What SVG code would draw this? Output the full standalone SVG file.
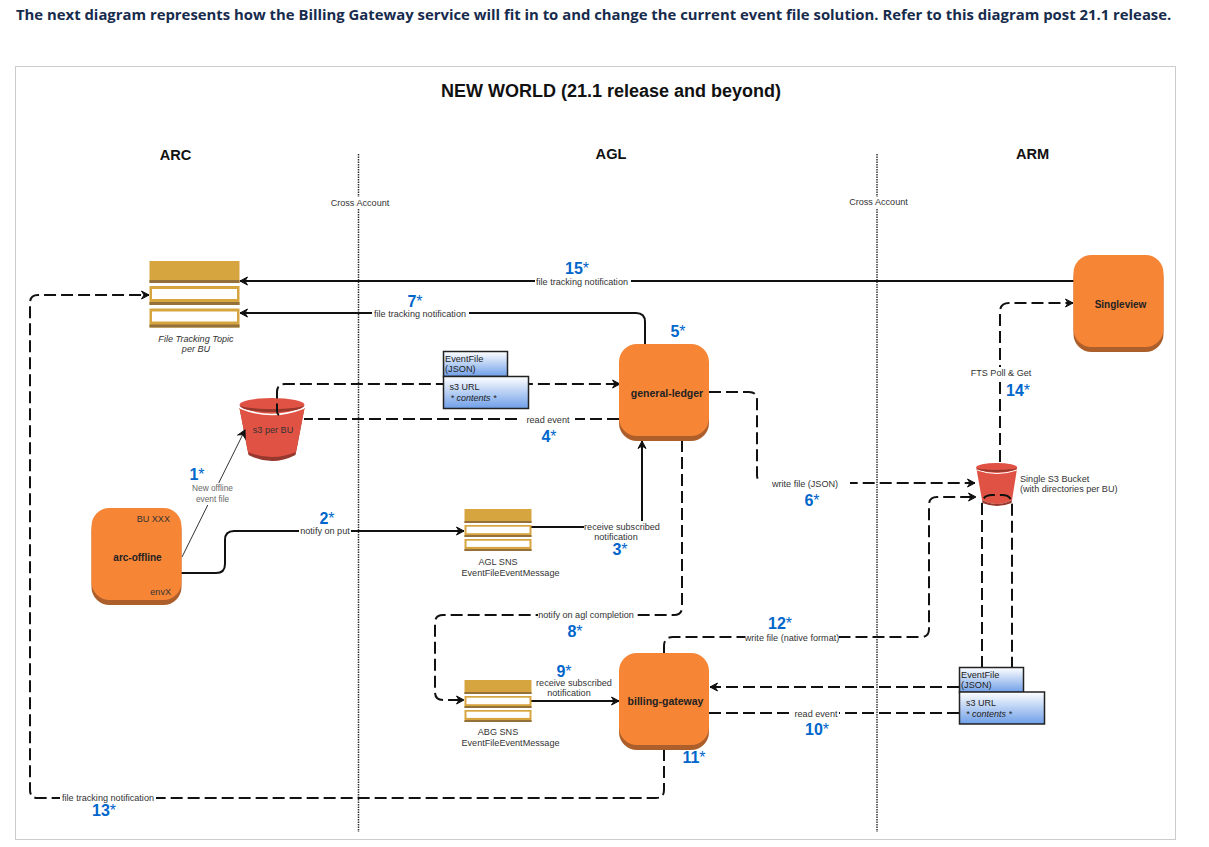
<svg xmlns="http://www.w3.org/2000/svg" xmlns:xlink="http://www.w3.org/1999/xlink" width="1209" height="847" viewBox="0 0 1209 847">
<style>
text{font-family:"Liberation Sans",Arial,sans-serif;fill:#222}
.c{text-anchor:middle}
.l{font-size:9.100px;fill:#333}
.n{font-size:16px;font-weight:bold;fill:#0066cc;text-anchor:middle}
.n tspan{font-weight:normal}
.h{font-size:14.600px;font-weight:bold;fill:#111;text-anchor:middle}
.b{font-size:10.500px;font-weight:bold;fill:#222;text-anchor:middle}
.con{fill:none;stroke:#111;stroke-width:2}
.d{stroke-dasharray:12 5}
.x{fill:none;stroke:#333;stroke-width:1.5;stroke-dasharray:1.5 1}
.w{fill:#fff}
.o{fill:#f68536}
.od{fill:#ad5f2b}
.r{fill:#e05243}
.rd{fill:#96382e}
.g{fill:#d7a53f}
.gd{fill:#94713a}
.f{fill:url(#blue);stroke:#222;stroke-width:1.5}
</style>
<defs>
<linearGradient id="blue" x1="0" y1="0" x2="0" y2="1"><stop offset="0" stop-color="#fff"/><stop offset="1" stop-color="#6f9fe8"/></linearGradient>
<marker id="a" markerWidth="10" markerHeight="10" refX="8.500" refY="5" orient="auto" markerUnits="userSpaceOnUse"><path d="M1 1 L8.500 5 L1 9 L3.500 5 Z" fill="#111" stroke="#111" stroke-width="1"/></marker>
<g id="topicS">
<rect x="0" y="0" width="67" height="14" class="g"/><rect x="0" y="12" width="67" height="2" class="gd"/>
<rect x="0" y="16" width="67" height="12" class="g"/><rect x="0" y="26" width="67" height="2" class="gd"/><rect x="2" y="17.700" width="63" height="6.500" class="w"/>
<rect x="0" y="30" width="67" height="12" class="g"/><rect x="0" y="40" width="67" height="2" class="gd"/><rect x="2" y="31.700" width="63" height="6.200" class="w"/>
</g>
<g id="proc">
<rect x="0" y="4" width="90" height="93" rx="18" class="od"/><rect x="0" y="0" width="90" height="92" rx="18" class="o"/>
</g>
</defs>
<rect width="1209" height="847" fill="#fff"/>
<text x="16" y="20" style="font-family:'Open Sans',sans-serif;font-size:14.860px;font-weight:bold;fill:#172b4d">The next diagram represents how the Billing Gateway service will fit in to and change the current event file solution. Refer to this diagram post 21.1 release.</text>
<rect x="15.500" y="66.500" width="1160" height="773" fill="#fff" stroke="#ccc" stroke-width="1"/>
<text x="611" y="97" class="c" style="font-size:18px;font-weight:bold;fill:#111">NEW WORLD (21.1 release and beyond)</text>
<text x="175.500" y="160" class="h">ARC</text>
<text x="611" y="159" class="h">AGL</text>
<text x="1032.500" y="159" class="h">ARM</text>
<g id="separators">
<line x1="358.500" y1="154" x2="358.500" y2="832" class="x"/>
<line x1="877" y1="154" x2="877" y2="832" class="x"/>
<rect x="331" y="197" width="59" height="11" class="w"/>
<rect x="849" y="197" width="59" height="11" class="w"/>
<text x="360" y="206" class="c l">Cross Account</text>
<text x="878.500" y="205" class="c l">Cross Account</text>
</g>
<g id="s3-per-bu">
<path d="M239.500 408L248.500 455Q272 467 295.500 455L304.500 408Z" class="rd"/>
<path d="M239.500 408L248 452Q272 462 296 452L304.500 408Z" class="r"/>
<path d="M240 408Q272 421 304 408" fill="none" stroke="#fff" stroke-width="1.500"/>
<ellipse cx="272" cy="405" rx="32.500" ry="7" class="r"/>
<path d="M239.500 405A32.500 7 0 0 0 304.500 405A32.500 4 0 0 1 239.500 405Z" class="rd"/>
<text x="273" y="433" class="c l">s3 per BU</text>
</g>
<g id="single-s3-bucket">
<path d="M976.500 469L982 500Q997 508 1012 500L1017 469Z" class="r"/>
<path d="M982 500Q997 508 1012 500L1011.500 503Q997 509 982.500 503Z" class="rd"/>
<path d="M977 470Q997 477 1017 470" fill="none" stroke="#fff" stroke-width="1"/>
<ellipse cx="996.700" cy="467.500" rx="20.500" ry="4.500" class="r"/>
<path d="M976.200 467.500A20.500 4.500 0 0 0 1017.200 467.500A20.500 2.500 0 0 1 976.200 467.500Z" class="rd"/>
<text x="1020" y="482" class="l">Single S3 Bucket</text>
<text x="1020" y="492" class="l">(with directories per BU)</text>
</g>
<g id="connectors">
<path class="con" d="M1074 281H240" marker-end="url(#a)"/>
<path class="con" d="M645 344V322Q645 313 636 313H240" marker-end="url(#a)"/>
<path class="con d" d="M619 419H304"/>
<path class="con d" d="M279 415Q277 414 277 411V392Q277 384 285 384H620" marker-end="url(#a)"/>
<path class="con" d="M182 557L245 430" style="stroke-width:1;stroke:#333" marker-end="url(#a)"/>
<path class="con" d="M181 573H216Q225 573 225 564V540Q225 531 234 531H464" marker-end="url(#a)"/>
<path class="con" d="M531 527H642V441" marker-end="url(#a)"/>
<path class="con d" d="M709 392H749Q757 392 757 400V475Q757 483 765 483H975" marker-end="url(#a)"/>
<path class="con d" d="M682 440V607Q682 615 674 615H443Q435 615 435 623V692Q435 700 443 700H464" marker-end="url(#a)"/>
<path class="con" d="M531 701H619" marker-end="url(#a)"/>
<path class="con d" d="M664 653V646Q664 637 673 637H921Q929 637 929 629V505Q929 497 937 497H976" marker-end="url(#a)"/>
<path class="con d" d="M959 687H710" marker-end="url(#a)"/>
<path class="con d" d="M709 713H959"/>
<path class="con d" d="M664 749V790Q664 798 656 798H38Q30 798 30 790V303Q30 295 38 295H149" marker-end="url(#a)"/>
<path class="con d" d="M1000 462V312Q1000 303 1009 303H1073" marker-end="url(#a)"/>
<path class="con d" d="M982 668V505Q982 495 992 495H1002Q1012 495 1012 505V668"/>
<rect x="535" y="276" width="96" height="11" class="w"/>
<rect x="372" y="308" width="97" height="11" class="w"/>
<rect x="521" y="415" width="54" height="10" class="w"/>
<rect x="190" y="483" width="46" height="22" class="w"/>
<rect x="299" y="525" width="52" height="11" class="w"/>
<rect x="584" y="521" width="76" height="22" class="w"/>
<rect x="760" y="478" width="90" height="11" class="w"/>
<rect x="538" y="610" width="96" height="10" class="w"/>
<rect x="745" y="633" width="94" height="10" class="w"/>
<rect x="794" y="708" width="45" height="10" class="w"/>
<rect x="60" y="793" width="96" height="10" class="w"/>
<rect x="970" y="367" width="62" height="11" class="w"/>
</g>
<g id="file-tracking-topic">
<rect x="149.500" y="261" width="90" height="22" class="g"/><rect x="149.500" y="280" width="90" height="3" class="gd"/>
<rect x="149.500" y="286" width="90" height="19" class="g"/><rect x="149.500" y="302" width="90" height="3" class="gd"/><rect x="152" y="289" width="85" height="10" class="w"/>
<rect x="149.500" y="308.500" width="90" height="19" class="g"/><rect x="149.500" y="324.500" width="90" height="3" class="gd"/><rect x="152" y="311.500" width="85" height="10" class="w"/>
<text x="196" y="342" class="c l" style="font-style:italic">File Tracking Topic</text>
<text x="196" y="352" class="c l" style="font-style:italic">per BU</text>
</g>
<g id="event-file-1">
<rect x="443.500" y="351.500" width="64" height="25" class="f"/>
<text x="445" y="362" style="font-size:9.200px">EventFile</text>
<text x="445" y="372" style="font-size:9.200px">(JSON)</text>
<rect x="443.500" y="376.500" width="85" height="32" class="f"/>
<text x="449.500" y="390" style="font-size:9px">s3 URL</text>
<text x="450.500" y="401" style="font-size:9px;font-style:italic">* contents *</text>
</g>
<g id="event-file-2">
<rect x="959.500" y="667.500" width="64" height="25" class="f"/>
<text x="961" y="678" style="font-size:9.200px">EventFile</text>
<text x="961" y="688" style="font-size:9.200px">(JSON)</text>
<rect x="959.500" y="692" width="85" height="32" class="f"/>
<text x="966" y="706" style="font-size:9px">s3 URL</text>
<text x="966" y="717" style="font-size:9px;font-style:italic">* contents *</text>
</g>
<g id="agl-sns">
<use xlink:href="#topicS" href="#topicS" x="464.500" y="509"/>
<text x="498" y="565" class="c l">AGL SNS</text>
<text x="510.500" y="576" class="c l">EventFileEventMessage</text>
</g>
<g id="abg-sns">
<use xlink:href="#topicS" href="#topicS" x="464.500" y="680"/>
<text x="498" y="735" class="c l">ABG SNS</text>
<text x="510.500" y="746" class="c l">EventFileEventMessage</text>
</g>
<g id="general-ledger"><use xlink:href="#proc" href="#proc" x="619" y="344"/><text x="667" y="397" class="b">general-ledger</text></g>
<g id="billing-gateway"><use xlink:href="#proc" href="#proc" x="619" y="653"/><text x="665.500" y="705" class="b">billing-gateway</text></g>
<g id="singleview"><use xlink:href="#proc" href="#proc" x="1073.500" y="255"/><text x="1120.500" y="308" class="b" style="font-size:10px">Singleview</text></g>
<g id="arc-offline"><use xlink:href="#proc" href="#proc" x="91.500" y="508"/>
<text x="137.500" y="561" class="b" style="font-size:10px">arc-offline</text>
<text x="170" y="522" class="l" style="text-anchor:end">BU XXX</text>
<text x="171" y="595" class="l" style="text-anchor:end">envX</text></g>
<g id="labels">
<text x="582" y="285" class="c l">file tracking notification</text>
<text x="420" y="317" class="c l">file tracking notification</text>
<text x="548" y="423" class="c l">read event</text>
<text x="212.500" y="491" class="c" style="font-size:8.300px;fill:#666">New offline</text>
<text x="212.500" y="502" class="c" style="font-size:8.300px;fill:#666">event file</text>
<text x="325" y="534" class="c l">notify on put</text>
<text x="622" y="530" class="c l">receive subscribed</text>
<text x="616" y="540" class="c l">notification</text>
<text x="805" y="487" class="c l">write file (JSON)</text>
<text x="586" y="618" class="c l">notify on agl completion</text>
<text x="792" y="641" class="c l">write file (native format)</text>
<text x="574" y="686" class="c l">receive subscribed</text>
<text x="569" y="696" class="c l">notification</text>
<text x="816" y="717" class="c l">read event</text>
<text x="108" y="801" class="c l">file tracking notification</text>
<text x="1001" y="376" class="c l">FTS Poll &amp; Get</text>
<text x="197" y="480" class="n">1<tspan>*</tspan></text>
<text x="327" y="524" class="n">2<tspan>*</tspan></text>
<text x="620" y="555" class="n">3<tspan>*</tspan></text>
<text x="549" y="442" class="n">4<tspan>*</tspan></text>
<text x="678" y="337" class="n">5<tspan>*</tspan></text>
<text x="812" y="506" class="n">6<tspan>*</tspan></text>
<text x="415" y="307" class="n">7<tspan>*</tspan></text>
<text x="575" y="637" class="n">8<tspan>*</tspan></text>
<text x="564" y="677" class="n">9<tspan>*</tspan></text>
<text x="817" y="735" class="n">10<tspan>*</tspan></text>
<text x="694" y="763" class="n">11<tspan>*</tspan></text>
<text x="780" y="629" class="n">12<tspan>*</tspan></text>
<text x="104" y="816" class="n">13<tspan>*</tspan></text>
<text x="1018" y="396" class="n">14<tspan>*</tspan></text>
<text x="577" y="274" class="n">15<tspan>*</tspan></text>
</g>
</svg>
